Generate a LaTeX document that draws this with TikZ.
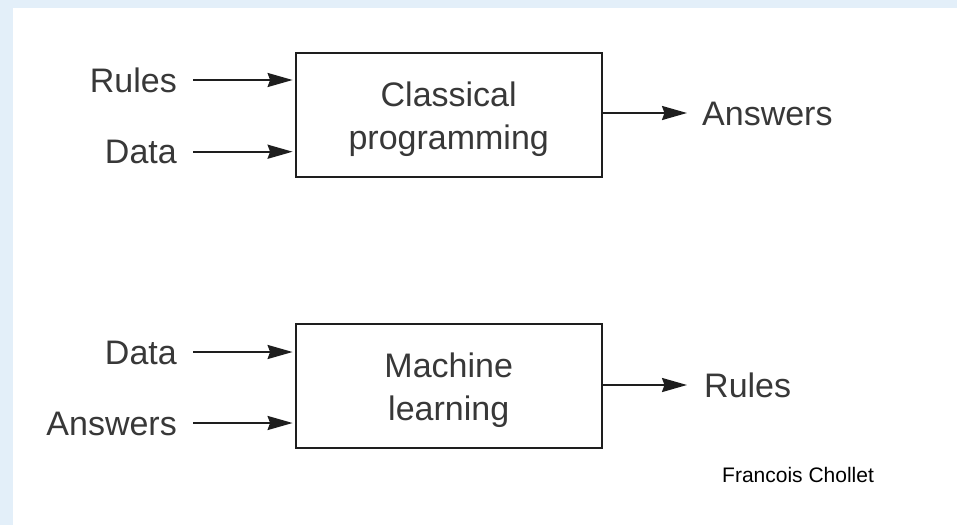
\documentclass[tikz,border=0pt]{standalone}
\usepackage{fontspec}
\setmainfont{Liberation Sans}
\usetikzlibrary{arrows.meta}
\definecolor{bgblue}{HTML}{E3EFF9}
\definecolor{txtgray}{HTML}{383838}
\definecolor{linecol}{HTML}{1E1E1E}
\newcommand{\boxtext}[2]{\raisebox{-4.5pt}[\height][\depth]{\begin{tabular}{@{}c@{}}#1\\#2\end{tabular}}}
\begin{document}
\begin{tikzpicture}[x=1pt,y=-1pt,
  procbox/.style={draw=linecol,line width=2.2pt,rectangle,minimum width=306pt,minimum height=124pt,
    align=center,text=txtgray,font=\fontsize{34}{43}\selectfont,inner sep=0pt},
  lbl/.style={text=txtgray,font=\fontsize{34}{40}\selectfont,inner sep=0pt,text height=24.5pt,text depth=0pt},
  arr/.style={draw=linecol,line width=2.2pt,-{Stealth[length=25pt,width=14pt,inset=2.5pt]}}]
\useasboundingbox (0,0) rectangle (957,525);
\fill[bgblue] (0,0) rectangle (957,525);
\fill[white] (13,8) rectangle (957,525);

% top: classical programming
\node[procbox] (box1) at (448.7,114.7) {\boxtext{Classical}{programming}};
\node[lbl,anchor=east] (inR1) at (177,80) {Rules};
\node[lbl,anchor=east] (inD1) at (177,151.7) {Data};
\node[lbl,anchor=west] (outA1) at (702,113) {Answers};
\draw[arr,shorten >=2pt] ([xshift=16pt]inR1.east) -- (box1.west |- inR1.east);
\draw[arr,shorten >=2pt] ([xshift=16pt]inD1.east) -- (box1.west |- inD1.east);
\draw[arr] (box1.east |- outA1.west) -- ([xshift=-15pt]outA1.west);

% bottom: machine learning
\node[procbox] (box2) at (448.7,386.3) {\boxtext{Machine}{learning}};
\node[lbl,anchor=east] (inD2) at (177,352) {Data};
\node[lbl,anchor=east] (inA2) at (177,423) {Answers};
\node[lbl,anchor=west] (outR2) at (704,385) {Rules};
\draw[arr,shorten >=2pt] ([xshift=16pt]inD2.east) -- (box2.west |- inD2.east);
\draw[arr,shorten >=2pt] ([xshift=16pt]inA2.east) -- (box2.west |- inA2.east);
\draw[arr] (box2.east |- outR2.west) -- ([xshift=-17pt]outR2.west);

\node[anchor=base west,inner sep=0pt,font=\fontsize{21}{25}\selectfont,text=black] (credit) at (722,482) {Francois Chollet};
\end{tikzpicture}
\end{document}
